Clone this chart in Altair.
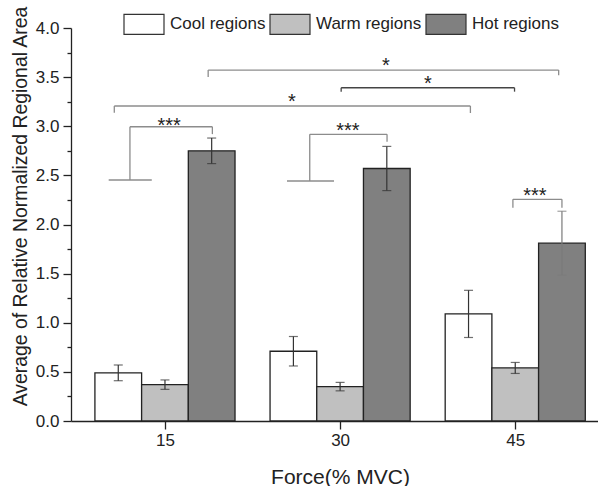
import altair as alt
import pandas as pd

# ---------------- data ----------------
forces = [15, 30, 45]
regions = ["Cool regions", "Warm regions", "Hot regions"]
cool_mean = [0.49, 0.71, 1.09]
cool_err = [0.08, 0.15, 0.24]
warm_mean = [0.37, 0.35, 0.54]
warm_err = [0.048, 0.043, 0.056]
hot_mean = [2.75, 2.57, 1.81]
hot_err = [0.13, 0.225, 0.325]

x_tick_values = [15, 30, 45]
y_tick_values = [0.0, 0.25, 0.5, 0.75, 1.0, 1.25, 1.5, 1.75, 2.0, 2.25,
                 2.5, 2.75, 3.0, 3.25, 3.5, 3.75, 4.0]

# significance brackets (data coordinates)
br_left = [12.0, 27.4, 44.8, 10.66, 30.09, 18.7]
br_right = [19.06, 34.02, 49.0, 41.16, 44.94, 48.72]
br_top = [2.995, 2.918, 2.256, 3.206, 3.392, 3.572]
br_left_end = [2.453, 2.443, 2.17, 3.138, 3.352, 3.50]
br_right_end = [2.92, 2.843, 2.17, 3.135, 3.352, 3.52]
br_label = ["***", "***", "***", "*", "*", "*"]
star_x = [15.36, 30.66, 46.68, 25.86, 37.52, 33.93]
star_y = [3.05, 3.006, 2.34, 3.30, 3.48, 3.664]
foot_left = [10.18, 25.45]
foot_right = [13.87, 29.48]
foot_y = [2.453, 2.443]

# ---------------- styles ----------------
FONT = "Liberation Sans"
TXT = "#222222"
BAR_COLORS = ["#ffffff", "#c0c0c0", "#808080"]
GROUP_OFFSET = {"Cool regions": -4, "Warm regions": 0, "Hot regions": 4}
HALF_BAR = 2

rows = []
for reg, means, errs in zip(regions, [cool_mean, warm_mean, hot_mean],
                            [cool_err, warm_err, hot_err]):
    for f, m, e in zip(forces, means, errs):
        c = f + GROUP_OFFSET[reg]
        rows.append({"region": reg, "force": f, "mean": m, "base": 0.0,
                     "center": c, "x0": c - HALF_BAR, "x1": c + HALF_BAR,
                     "lo": m - e, "hi": m + e})
df = pd.DataFrame(rows)

br = pd.DataFrame({"id": list(range(len(br_left))), "left": br_left, "right": br_right,
                   "top": br_top, "lend": br_left_end, "rend": br_right_end,
                   "label": br_label, "sx": star_x, "sy": star_y})
feet = pd.DataFrame({"l": foot_left, "r": foot_right, "y": foot_y})

xs = alt.Scale(domain=[7.38, 51.66], nice=False, zero=False)
ys = alt.Scale(domain=[0, 4], nice=False, zero=False)

x_axis = alt.Axis(values=x_tick_values, title="Force(% MVC)", grid=False,
                  labelFontSize=17, labelColor=TXT, labelFont=FONT, labelPadding=3,
                  tickSize=8, tickColor=TXT, tickWidth=1.3,
                  domainColor=TXT, domainWidth=1.3,
                  titleFontSize=21, titleFont=FONT, titleColor=TXT, titleFontWeight="normal",
                  titleX=269, titleY=62, titleAlign="center", titleBaseline="alphabetic")
y_axis = alt.Axis(values=y_tick_values, title="Average of Relative Normalized Regional Area",
                  grid=False,
                  labelExpr="datum.value % 0.5 === 0 ? format(datum.value, '.1f') : ''",
                  labelFontSize=17, labelColor=TXT, labelFont=FONT, labelPadding=4,
                  tickSize={"condition": {"test": "datum.value % 0.5 === 0", "value": 8}, "value": 4},
                  tickColor=TXT, tickWidth=1.3,
                  domainColor=TXT, domainWidth=1.3,
                  titleFontSize=19.4, titleFont=FONT, titleColor=TXT, titleFontWeight="normal",
                  titleX=-51, titleY=178, titleAngle=270, titleAlign="center",
                  titleBaseline="middle")


def X(field):
    return alt.X(field, type="quantitative", scale=xs, axis=x_axis)


def Y(field):
    return alt.Y(field, type="quantitative", scale=ys, axis=y_axis)


legend = alt.Legend(title=None, orient="none", legendX=52, legendY=-25,
                    direction="horizontal", symbolType="M-1,-0.5H1V0.5H-1Z",
                    symbolSize=1600, symbolStrokeColor="#333333", symbolStrokeWidth=1.2,
                    symbolOpacity=1, labelFontSize=17, labelFont=FONT, labelColor=TXT,
                    labelOffset=5, columnPadding=1, padding=0)

bars = alt.Chart(df).mark_bar(stroke="#222222", strokeWidth=1.3, opacity=1,
                              orient="vertical").encode(
    x=X("x0"), x2="x1:Q",
    y=Y("mean"), y2="base:Q",
    fill=alt.Fill("region:N", scale=alt.Scale(domain=regions, range=BAR_COLORS), legend=legend),
)

err_color = alt.condition("datum.region === 'Hot regions' && datum.force === 45",
                          alt.value("#7a7a7a"), alt.value("#333333"))
err_rule = alt.Chart(df).mark_rule(strokeWidth=1.2).encode(
    x=X("center"), y=Y("lo"), y2="hi:Q", color=err_color)
cap_lo = alt.Chart(df).mark_tick(orient="horizontal", size=9, thickness=1.2).encode(
    x=X("center"), y=Y("lo"), color=err_color)
cap_hi = alt.Chart(df).mark_tick(orient="horizontal", size=9, thickness=1.2).encode(
    x=X("center"), y=Y("hi"), color=err_color)

br_color = alt.condition("datum.id === 4", alt.value("#444444"), alt.value("#8c8c8c"))
br_h = alt.Chart(br).mark_rule(strokeWidth=1.3).encode(
    x=X("left"), x2="right:Q", y=Y("top"), color=br_color)
br_l = alt.Chart(br).mark_rule(strokeWidth=1.3).encode(
    x=X("left"), y=Y("top"), y2="lend:Q", color=br_color)
br_r = alt.Chart(br).mark_rule(strokeWidth=1.3).encode(
    x=X("right"), y=Y("top"), y2="rend:Q", color=br_color)
br_foot = alt.Chart(feet).mark_rule(strokeWidth=1.3, color="#8c8c8c").encode(
    x=X("l"), x2="r:Q", y=Y("y"))
stars = alt.Chart(br).mark_text(font=FONT, fontSize=20, color=TXT,
                                baseline="alphabetic", align="center", dy=11).encode(
    x=X("sx"), y=Y("sy"), text="label:N")

chart = alt.layer(br_foot, br_l, br_r, br_h, bars, err_rule, cap_lo, cap_hi, stars).properties(
    width=527, height=393,
    padding={"left": 71, "top": 28, "right": 0, "bottom": 65},
    autosize="none",
).configure(font=FONT).configure_view(stroke=None)

chart.save("out.html", embed_options={"renderer": "svg", "actions": False})
